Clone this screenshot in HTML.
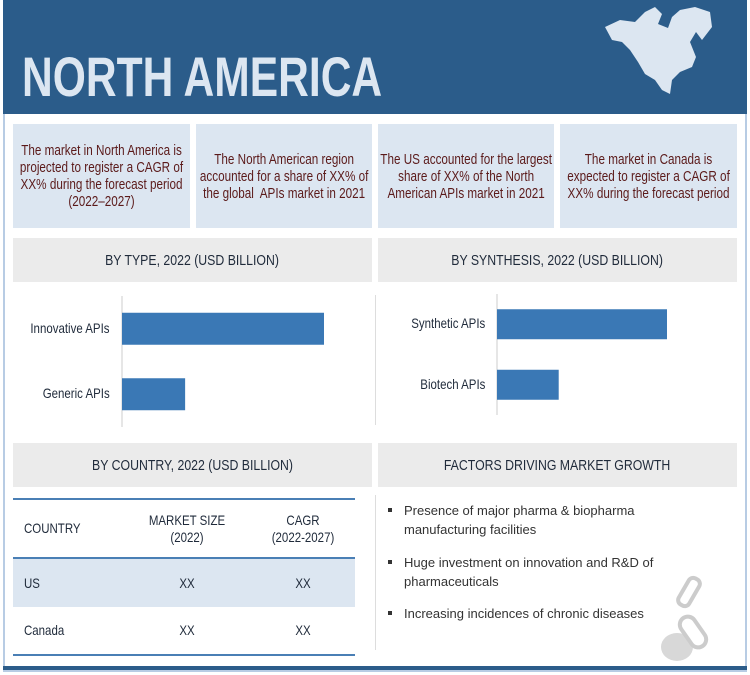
<!DOCTYPE html>
<html><head><meta charset="utf-8"><style>
*{margin:0;padding:0;box-sizing:border-box}
body{width:750px;height:675px;background:#fff;position:relative;overflow:hidden;font-family:"Liberation Sans",sans-serif}
.abs{position:absolute}
.card{position:absolute;top:124px;height:104px;background:#dce6f1;overflow:hidden}
.card div{position:absolute;left:0;top:0;height:104px;color:#5b1a1a;font-size:15px;line-height:17px;text-align:center;display:flex;align-items:center;justify-content:center;padding:0 4px;transform:scaleX(0.78);transform-origin:left}
.sec{position:absolute;height:44px;background:#ebebeb;color:#1f2a3a;font-size:15px;display:flex;align-items:center;justify-content:center}
.sec span{display:inline-block;transform:scaleX(0.82)}
.lbl{position:absolute;font-size:14px;color:#1f2a3a;text-align:right;transform:scaleX(0.82);transform-origin:right}
.cell{position:absolute;font-size:14px;color:#1f2a3a;text-align:center;line-height:17px;transform:scaleX(0.82)}
.cl{transform-origin:left}
.bul{position:absolute;left:389px;font-size:13px;color:#333;line-height:19px}
.bul span{position:absolute;left:-1px;top:7px;width:4px;height:4px;background:#333}
.bul p{margin-left:15px}
</style></head><body>
<div class="abs" style="left:3px;top:0;width:744px;height:672px;border:2px solid #b8cce4;border-top:none"></div>
<div class="abs" style="left:3px;top:0;width:744px;height:114px;background:#2b5c8a"></div>
<div class="abs" style="left:22px;top:44px;font-size:56px;font-weight:bold;color:#dce6f1;transform:scaleX(0.76);transform-origin:left;white-space:nowrap">NORTH AMERICA</div>
<svg class="abs" style="left:600px;top:2px" width="120" height="95" viewBox="0 0 120 95">
<path d="M5 25 L20 18 L35 20 L45 10 L55 5 L62 12 L58 22 L68 26 L72 15 L80 8 L95 5 L110 10 L112 25 L102 38 L96 30 L90 40 L96 55 L92 65 L80 70 L72 78 L70 92 L62 88 L55 78 L45 72 L38 60 L30 48 L22 40 L12 38 Z" fill="#dce6f1"/>
</svg>
<div class="card" style="left:13px;width:177px"><div style="width:227px">The market in North America is projected to register a CAGR of XX% during the forecast period (2022–2027)</div></div>
<div class="card" style="left:196px;width:176px"><div style="width:226px">The North American region accounted for a share of XX% of the global&nbsp; APIs market in 2021</div></div>
<div class="card" style="left:378px;width:176px"><div style="width:226px;white-space:nowrap">The US accounted for the largest<br>share of XX% of the North<br>American APIs market in 2021</div></div>
<div class="card" style="left:560px;width:177px"><div style="width:227px">The market in Canada is<br>expected to register a CAGR of XX% during the forecast period</div></div>
<div class="sec" style="left:13px;top:238px;width:359px"><span>BY TYPE, 2022 (USD BILLION)</span></div>
<div class="sec" style="left:378px;top:238px;width:359px"><span>BY SYNTHESIS, 2022 (USD BILLION)</span></div>
<div class="sec" style="left:13px;top:443px;width:359px"><span>BY COUNTRY, 2022 (USD BILLION)</span></div>
<div class="sec" style="left:378px;top:443px;width:359px"><span>FACTORS DRIVING MARKET GROWTH</span></div>
<div class="abs" style="left:375px;top:295px;width:1px;height:130px;background:#ddd"></div>
<div class="abs" style="left:375px;top:495px;width:1px;height:155px;background:#ddd"></div>
<svg class="abs" style="left:0;top:0" width="750" height="675" id="charts"></svg>
<div id="labels"></div>
<div class="abs" style="left:13px;top:498px;width:342px;height:2px;background:#4a7fb5"></div>
<div class="abs" style="left:13px;top:557px;width:342px;height:50px;background:#dce6f1;border-top:2px solid #4a7fb5"></div>
<div class="abs" style="left:13px;top:654px;width:342px;height:2px;background:#4a7fb5"></div>
<div class="cell cl" style="left:24px;top:520px;text-align:left">COUNTRY</div>
<div class="cell" style="left:137px;top:512px;width:100px">MARKET SIZE<br>(2022)</div>
<div class="cell" style="left:253px;top:512px;width:100px">CAGR<br>(2022-2027)</div>
<div class="cell cl" style="left:24px;top:575px;text-align:left">US</div>
<div class="cell" style="left:137px;top:575px;width:100px">XX</div>
<div class="cell" style="left:253px;top:575px;width:100px">XX</div>
<div class="cell cl" style="left:24px;top:622px;text-align:left">Canada</div>
<div class="cell" style="left:137px;top:622px;width:100px">XX</div>
<div class="cell" style="left:253px;top:622px;width:100px">XX</div>
<div class="bul" style="top:501px"><span></span><p>Presence of major pharma &amp; biopharma<br>manufacturing facilities</p></div>
<div class="bul" style="top:553px"><span></span><p>Huge investment on innovation and R&amp;D of<br>pharmaceuticals</p></div>
<div class="bul" style="top:604px"><span></span><p>Increasing incidences of chronic diseases</p></div>
<svg class="abs" style="left:655px;top:575px" width="60" height="90">
<rect x="28" y="2" width="12" height="30" rx="5" fill="none" stroke="#ccc" stroke-width="4" transform="rotate(30 34 17)"/>
<ellipse cx="22" cy="72" rx="16" ry="14" fill="#d8d8d8"/>
<rect x="30" y="40" width="16" height="34" rx="8" fill="none" stroke="#ccc" stroke-width="4" transform="rotate(-35 38 57)"/>
</svg>
<div class="abs" style="left:3px;top:666px;width:744px;height:4px;background:#2b5c8a"></div>
<script>
const typeCategories=["Innovative APIs","Generic APIs"];
const typeValues=[160,50];
const synCategories=["Synthetic APIs","Biotech APIs"];
const synValues=[135,49];
const svg=document.getElementById('charts');
const labels=document.getElementById('labels');
const NS='http://www.w3.org/2000/svg';
function draw(cats,vals,x0,top,bottom,bandStart,band,barH,scale,prefix){
  const ax=document.createElementNS(NS,'line');
  ax.setAttribute('x1',x0);ax.setAttribute('x2',x0);ax.setAttribute('y1',top);ax.setAttribute('y2',bottom);
  ax.setAttribute('stroke','#ccc');
  
  
  svg.appendChild(ax);
  cats.forEach((c,i)=>{
    const yc=bandStart+band*i+band/2;
    const r=document.createElementNS(NS,'rect');
    r.setAttribute('x',x0);r.setAttribute('y',yc-barH/2);
    r.setAttribute('width',vals[i]*scale);r.setAttribute('height',barH);
    r.setAttribute('fill','#3a78b5');
    
    
    svg.appendChild(r);
    const l=document.createElement('div');
    l.className='lbl';
    l.style.right=(750-x0+12)+'px';l.style.top=(yc-9)+'px';
    l.textContent=c;
    
    
    labels.appendChild(l);
  });
}
draw(typeCategories,typeValues,122,296,427,296,65.5,32,202/160,'type');
draw(synCategories,synValues,497,294,415,294,60.5,30,170/135,'synthesis');
</script>
</body></html>
